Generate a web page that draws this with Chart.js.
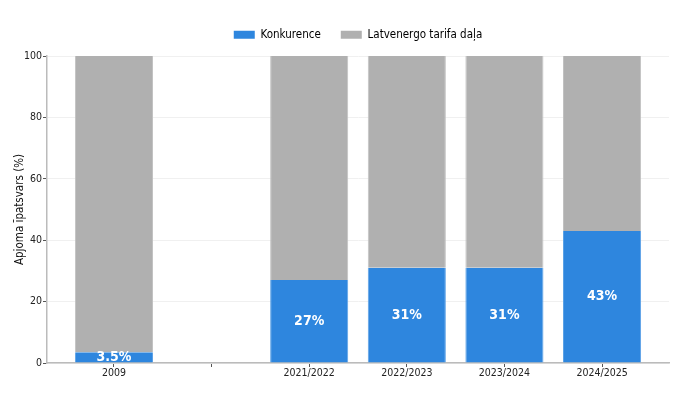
<!DOCTYPE html>
<html>
<head>
<meta charset="utf-8">
<script src="https://cdn.jsdelivr.net/npm/chart.js@4.4.1/dist/chart.umd.min.js"></script>
<style>
  html, body { margin: 0; padding: 0; background: #fff; }
  #wrap { width: 688px; height: 403px; }
</style>
</head>
<body>
<div id="wrap"><canvas id="c" width="688" height="403"></canvas></div>
<script>
const CATEGORIES = ['2009', '', '2021/2022', '2022/2023', '2023/2024', '2024/2025'];
const COMPETITION = [3.5, null, 27, 31, 31, 43];
const TARIFF = [96.5, null, 73, 69, 69, 57];
const Y_TICKS = [0, 20, 40, 60, 80, 100];

const FONT = '"DejaVu Sans Condensed", "DejaVu Sans", sans-serif';
const BLUE = '#2e86de';
const GREY = '#b0b0b0';

const toPoints = arr => arr.map((v, i) => ({ x: i, y: v }));

// white percentage inside each blue segment
const barLabels = {
  id: 'barLabels',
  afterDatasetsDraw(chart) {
    const { ctx } = chart;
    const meta = chart.getDatasetMeta(0);
    ctx.save();
    ctx.font = `bold 14px ${FONT}`;
    ctx.fillStyle = '#fff';
    ctx.textAlign = 'center';
    ctx.textBaseline = 'middle';
    meta.data.forEach((bar, i) => {
      const v = COMPETITION[i];
      if (v == null) return;
      ctx.fillText(v + '%', bar.x, (bar.y + bar.base) / 2);
    });
    ctx.restore();
  }
};

// more room under the legend, and centre it over the plot area
const legendPlace = {
  id: 'legendPlace',
  beforeInit(chart) {
    const fit = chart.legend.fit;
    chart.legend.fit = function () {
      fit.bind(chart.legend)();
      this.height += 5.5;
    };
  },
  afterLayout(chart) {
    chart.legend.left = chart.chartArea.left;
  }
};

const sideEdges = { left: 1, right: 1, top: 0, bottom: 0 };

new Chart(document.getElementById('c'), {
  type: 'bar',
  data: {
    datasets: [
      {
        label: 'Konkurence',
        data: toPoints(COMPETITION),
        backgroundColor: BLUE,
        borderColor: '#5da2e6',
        borderWidth: sideEdges,
        borderSkipped: false
      },
      {
        label: 'Latvenergo tarifa daļa',
        data: toPoints(TARIFF),
        backgroundColor: GREY,
        borderColor: '#c2c2c2',
        borderWidth: sideEdges,
        borderSkipped: false
      }
    ]
  },
  options: {
    responsive: false,
    animation: false,
    barPercentage: 0.8,
    categoryPercentage: 1,
    layout: { padding: { left: 0, right: 19, top: 9, bottom: 0 } },
    plugins: {
      legend: {
        position: 'top',
        labels: {
          color: '#111',
          font: { family: FONT, size: 11.5 },
          boxWidth: 21,
          boxHeight: 8,
          padding: 20,
          generateLabels: chart => chart.data.datasets.map((ds, i) => ({
            text: ds.label,
            fillStyle: ds.backgroundColor,
            strokeStyle: ds.backgroundColor,
            lineWidth: 0,
            datasetIndex: i,
            hidden: false
          }))
        }
      },
      tooltip: { enabled: false }
    },
    scales: {
      x: {
        type: 'linear',
        stacked: true,
        offset: false,
        min: -0.686,
        max: 5.686,
        afterBuildTicks: s => { s.ticks = CATEGORIES.map((_, i) => ({ value: i })); },
        afterFit: s => { s.height = 40; },
        ticks: {
          color: '#222',
          font: { family: FONT, size: 10.5 },
          padding: 0,
          maxRotation: 0,
          autoSkip: false,
          callback: v => CATEGORIES[v]
        },
        grid: { offset: false, drawOnChartArea: false, drawTicks: true, tickLength: 4, tickColor: '#555', tickWidth: 1 },
        border: { color: '#bbb', width: 1.5 }
      },
      y: {
        stacked: true,
        min: 0,
        max: 100,
        afterBuildTicks: s => { s.ticks = Y_TICKS.map(v => ({ value: v })); },
        afterFit: s => { s.width = 47; },
        ticks: {
          color: '#222',
          font: { family: FONT, size: 10.5 },
          padding: 1
        },
        grid: { color: '#f0f0f0', tickColor: '#555', tickLength: 4, lineWidth: 1 },
        border: { color: '#bbb', width: 1.5 },
        title: {
          display: true,
          text: 'Apjoma īpatsvars (%)',
          color: '#111',
          font: { family: FONT, size: 11.5 },
          padding: { top: 13, bottom: 0 }
        }
      }
    }
  },
  plugins: [barLabels, legendPlace]
});
</script>
</body>
</html>
